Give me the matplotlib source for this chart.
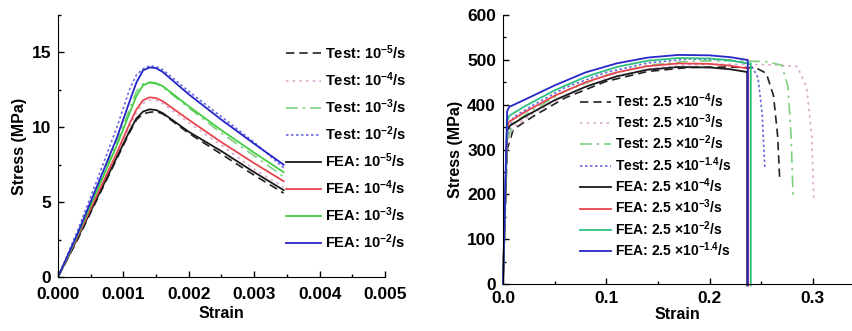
import matplotlib
matplotlib.use("Agg")
import matplotlib.pyplot as plt
from matplotlib.ticker import MultipleLocator

plt.rcParams['font.family'] = ['Liberation Sans', 'DejaVu Sans']
plt.rcParams['font.weight'] = 'bold'
plt.rcParams['mathtext.fontset'] = 'custom'
plt.rcParams['mathtext.rm'] = 'Liberation Sans:bold'
plt.rcParams['mathtext.bf'] = 'Liberation Sans:bold'
plt.rcParams['mathtext.default'] = 'bf'

# ---------------- Left panel data ----------------
left_strain = [0, 0.0003, 0.0006, 0.0009, 0.0011, 0.0012, 0.0013, 0.0014, 0.0015, 0.0016,
               0.002, 0.0025, 0.003, 0.00345]
left_fea_m5 = [0, 2.6, 5.3, 8.0, 9.8, 10.6, 11.05, 11.2, 11.15, 10.95, 9.7, 8.4, 7.0, 5.8]
left_fea_m4 = [0, 2.7, 5.5, 8.3, 10.3, 11.2, 11.8, 12.0, 11.95, 11.75, 10.5, 9.0, 7.6, 6.4]
left_fea_m3 = [0, 2.8, 5.8, 8.8, 11.0, 12.1, 12.8, 13.0, 12.95, 12.75, 11.4, 9.8, 8.3, 7.0]
left_fea_m2 = [0, 2.9, 6.1, 9.3, 11.8, 13.0, 13.8, 14.0, 13.95, 13.7, 12.2, 10.5, 8.9, 7.5]
left_test_m5 = [0, 2.5, 5.2, 7.9, 9.7, 10.5, 10.9, 11.0, 11.05, 10.9, 9.6, 8.2, 6.8, 5.6]
left_test_m4 = [0, 2.6, 5.4, 8.2, 10.1, 11.0, 11.6, 11.8, 11.8, 11.6, 10.3, 8.8, 7.2, 6.0]
left_test_m3 = [0, 2.9, 6.0, 9.0, 11.3, 12.4, 12.9, 13.0, 12.9, 12.7, 11.3, 9.6, 8.1, 6.7]
left_test_m2 = [0, 3.1, 6.5, 10.0, 12.6, 13.5, 13.9, 14.1, 14.05, 13.85, 12.4, 10.7, 9.0, 7.3]

left_labels_test = ['Test: 10$^{-5}$/s', 'Test: 10$^{-4}$/s', 'Test: 10$^{-3}$/s', 'Test: 10$^{-2}$/s']
left_labels_fea = ['FEA: 10$^{-5}$/s', 'FEA: 10$^{-4}$/s', 'FEA: 10$^{-3}$/s', 'FEA: 10$^{-2}$/s']

# ---------------- Right panel data ----------------
r_fea_strain = [0, 0.004, 0.006, 0.02, 0.05, 0.08, 0.11, 0.14, 0.17, 0.2, 0.22, 0.236]
r_fea_m4 = [0, 340, 352, 372, 410, 440, 463, 478, 484, 483, 479, 473]
r_fea_m3 = [0, 350, 362, 382, 420, 450, 472, 486, 492, 491, 487, 481]
r_fea_m2 = [0, 362, 375, 395, 432, 462, 484, 498, 504, 503, 499, 492]
r_fea_m14 = [0, 385, 395, 410, 443, 472, 492, 505, 511, 510, 506, 500]
r_fea_drop = [0.2365, 0.2375, 0.240, 0.237]   # strain at which FEA curves fall to zero

r_t_m4_strain = [0, 0.004, 0.01, 0.03, 0.06, 0.1, 0.14, 0.18, 0.22, 0.245, 0.255, 0.262, 0.266, 0.268]
r_t_m4 = [0, 300, 345, 375, 415, 452, 474, 483, 484, 482, 470, 420, 330, 232]
r_t_m3_strain = [0, 0.004, 0.01, 0.03, 0.06, 0.1, 0.14, 0.18, 0.22, 0.26, 0.285, 0.294, 0.299, 0.301]
r_t_m3 = [0, 310, 350, 382, 420, 458, 480, 489, 490, 489, 485, 440, 330, 189]
r_t_m2_strain = [0, 0.004, 0.01, 0.03, 0.06, 0.1, 0.14, 0.18, 0.22, 0.255, 0.27, 0.276, 0.279, 0.281]
r_t_m2 = [0, 320, 360, 390, 430, 466, 488, 497, 498, 496, 488, 440, 330, 191]
r_t_m14_strain = [0, 0.004, 0.01, 0.03, 0.06, 0.1, 0.14, 0.18, 0.22, 0.24, 0.247, 0.251, 0.2535]
r_t_m14 = [0, 330, 372, 400, 438, 472, 493, 502, 500, 490, 460, 380, 261]

right_labels_test = ['Test: 2.5 ×10$^{-4}$/s', 'Test: 2.5 ×10$^{-3}$/s',
                     'Test: 2.5 ×10$^{-2}$/s', 'Test: 2.5 ×10$^{-1.4}$/s']
right_labels_fea = ['FEA: 2.5 ×10$^{-4}$/s', 'FEA: 2.5 ×10$^{-3}$/s',
                    'FEA: 2.5 ×10$^{-2}$/s', 'FEA: 2.5 ×10$^{-1.4}$/s']

# ---------------- Styles ----------------
fea_colors = ['#1a1a1a', '#e8454f', '#45cc45', '#2626c8']
test_colors = ['#222222', '#d9a6cf', '#7fd07f', '#6a6ae0']
test_styles = [(0, (5, 3)), (0, (1.5, 2.5)), (0, (7, 3, 1.5, 3)), (0, (1.5, 1.5))]

fig = plt.figure(figsize=(8.53, 3.31), dpi=100)
W, H = 853, 331

def style_axes(ax, xpad):
    ax.spines['top'].set_visible(False)
    ax.spines['right'].set_visible(False)
    ax.tick_params(direction='in', which='both', labelsize=12.5, width=1)
    ax.tick_params(which='major', length=4)
    ax.tick_params(which='minor', length=2.5)
    ax.tick_params(axis='x', pad=xpad)
    ax.tick_params(axis='y', pad=5)
    for lab in ax.get_xticklabels() + ax.get_yticklabels():
        lab.set_fontweight('bold')
    ax.set_ylabel('Stress (MPa)', fontsize=11.5, fontweight='bold', labelpad=3)

# Left
ax1 = fig.add_axes([58 / W, 1 - 277 / H, (385 - 58) / W, (277 - 15) / H])
tests_l = [left_test_m5, left_test_m4, left_test_m3, left_test_m2]
feas_l = [left_fea_m5, left_fea_m4, left_fea_m3, left_fea_m2]
for i in range(4):
    ax1.plot(left_strain, tests_l[i], color=test_colors[i], linestyle=test_styles[i], lw=1.2,
             label=left_labels_test[i])
for i in range(4):
    ax1.plot(left_strain, feas_l[i], color=fea_colors[i], lw=1.3, label=left_labels_fea[i])
ax1.set_xlim(0, 0.005)
ax1.set_ylim(0, 17.5)
ax1.xaxis.set_major_locator(MultipleLocator(0.001))
ax1.xaxis.set_minor_locator(MultipleLocator(0.0005))
ax1.yaxis.set_major_locator(MultipleLocator(5))
ax1.yaxis.set_minor_locator(MultipleLocator(2.5))
ax1.xaxis.set_major_formatter(matplotlib.ticker.FormatStrFormatter('%.3f'))
style_axes(ax1, 7)
ax1.set_xlabel('Strain', fontsize=11.5, fontweight='bold', labelpad=3)
ax1.legend(loc='upper left', bbox_to_anchor=(286 / W, 1 - 43 / H), bbox_transform=fig.transFigure,
           frameon=False, fontsize=10.5, handlelength=2.4, handletextpad=0.3, labelspacing=0.58,
           borderpad=0, borderaxespad=0)

# Right
ax2 = fig.add_axes([503 / W, 1 - 284 / H, (852 - 503) / W, (284 - 15) / H])
tests_r = [(r_t_m4_strain, r_t_m4), (r_t_m3_strain, r_t_m3), (r_t_m2_strain, r_t_m2),
           (r_t_m14_strain, r_t_m14)]
feas_r = [r_fea_m4, r_fea_m3, r_fea_m2, r_fea_m14]
for i in range(4):
    ax2.plot(tests_r[i][0], tests_r[i][1], color=test_colors[i], linestyle=test_styles[i], lw=1.2,
             label=right_labels_test[i])
fea_colors_r = ['#1a1a1a', '#e8454f', '#2fbf7f', '#2626c8']
for i in range(4):
    xs = r_fea_strain + [r_fea_drop[i], r_fea_drop[i]]
    ys = feas_r[i] + [feas_r[i][-1], -3]
    ax2.plot(xs, ys, color=fea_colors_r[i], lw=1.3, label=right_labels_fea[i], clip_on=False)
ax2.set_xlim(0, 0.338)
ax2.set_ylim(0, 600)
ax2.xaxis.set_major_locator(MultipleLocator(0.1))
ax2.xaxis.set_minor_locator(MultipleLocator(0.05))
ax2.yaxis.set_major_locator(MultipleLocator(100))
ax2.yaxis.set_minor_locator(MultipleLocator(50))
ax2.xaxis.set_major_formatter(matplotlib.ticker.FormatStrFormatter('%.1f'))
style_axes(ax2, 5)
ax2.set_xlabel('Strain', fontsize=11.5, fontweight='bold', labelpad=1)
ax2.legend(loc='upper left', bbox_to_anchor=(580 / W, 1 - 91 / H), bbox_transform=fig.transFigure,
           frameon=False, fontsize=10, handlelength=2.2, handletextpad=0.3, labelspacing=0.2,
           borderpad=0, borderaxespad=0)

fig.savefig('out.png', dpi=100)
